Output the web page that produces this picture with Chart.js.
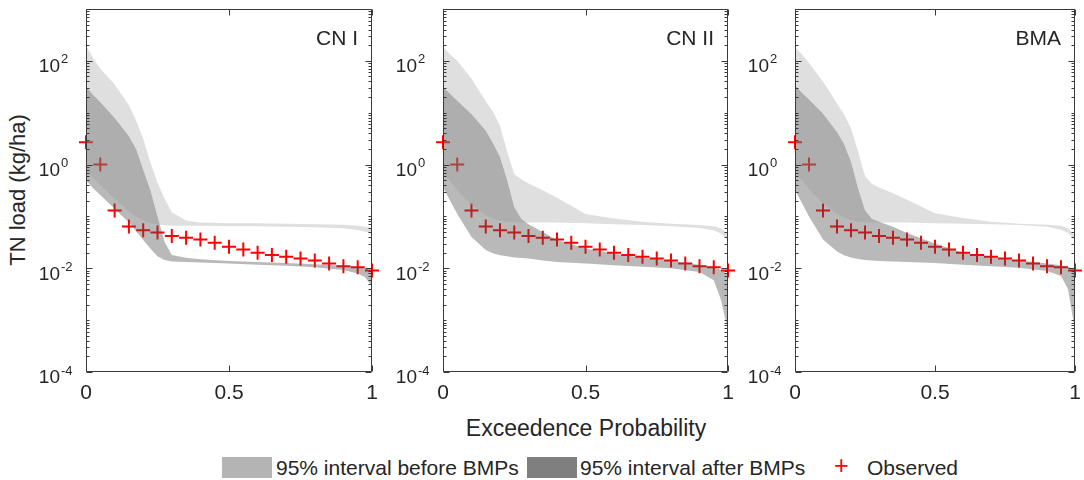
<!DOCTYPE html>
<html>
<head>
<meta charset="utf-8">
<script src="https://cdn.jsdelivr.net/npm/chart.js@4.4.1/dist/chart.umd.min.js"></script>
<style>
    body { margin: 0; background: #fff; }
    #wrap { position: relative; width: 1084px; height: 480px; background: #fff; overflow: hidden;
            font-family: "Liberation Sans", Arial, sans-serif; color: #262626; }
    #wrap canvas { position: absolute; top: 0; }
    .ytitle { position: absolute; left: 18px; top: 190px; font-size: 22px; white-space: nowrap;
              transform: translate(-50%, -50%) rotate(-90deg); }
    .xtitle { position: absolute; left: 586px; top: 428px; font-size: 23px; white-space: nowrap;
              transform: translate(-50%, -50%); }
    .lg { position: absolute; font-size: 21px; white-space: nowrap; line-height: 22px; top: 457px; }
    .box { position: absolute; top: 457px; width: 50px; height: 21px; }
</style>
</head>
<body>
<div id="wrap">
    <canvas id="p1"></canvas>
    <canvas id="p2"></canvas>
    <canvas id="p3"></canvas>
    <div class="ytitle">TN load (kg/ha)</div>
    <div class="xtitle">Exceedence Probability</div>
    <div class="box" style="left:222px;background:#b4b4b4"></div>
    <div class="lg" style="left:276px">95% interval before BMPs</div>
    <div class="box" style="left:527px;background:#7f7f7f"></div>
    <div class="lg" style="left:580px">95% interval after BMPs</div>
    <div class="lg" style="left:834px;color:#ff0000;font-size:25px;top:454px">+</div>
    <div class="lg" style="left:867px">Observed</div>
</div>
<script>
// exceedence probability grid for the uncertainty bands
const probGrid = [0, 0.025, 0.05, 0.1, 0.15, 0.175, 0.2, 0.225, 0.25, 0.275, 0.3, 0.35, 0.4, 0.5, 0.6, 0.7, 0.8, 0.9, 0.95, 0.975, 1];

// observed TN load (kg/ha)
const obsProb = [0, 0.05, 0.1, 0.15, 0.2, 0.25, 0.3, 0.35, 0.4, 0.45, 0.5, 0.55, 0.6, 0.65, 0.7, 0.75, 0.8, 0.85, 0.9, 0.95, 1];
const observed = [2.7, 1.0, 0.13, 0.064, 0.054, 0.049, 0.042, 0.039, 0.036, 0.031, 0.026, 0.023, 0.020, 0.018, 0.0166, 0.0155, 0.0141, 0.0123, 0.011, 0.0105, 0.0091];

// CN I
const cn1BeforeUpper = [200, 112, 71, 35, 14, 7.1, 3.2, 1.1, 0.45, 0.22, 0.12, 0.083, 0.076, 0.074, 0.074, 0.072, 0.071, 0.069, 0.066, 0.063, 0.06];
const cn1BeforeLower = [0.79, 0.56, 0.4, 0.22, 0.126, 0.1, 0.083, 0.074, 0.069, 0.068, 0.066, 0.066, 0.066, 0.065, 0.065, 0.063, 0.062, 0.059, 0.055, 0.051, 0.047];
const cn1AfterUpper = [32, 22, 16, 7.9, 3.5, 2.0, 0.79, 0.32, 0.1, 0.032, 0.018, 0.016, 0.015, 0.0138, 0.0132, 0.0126, 0.012, 0.0112, 0.0105, 0.01, 0.0089];
const cn1AfterLower = [0.5, 0.35, 0.26, 0.14, 0.076, 0.052, 0.035, 0.024, 0.017, 0.0145, 0.0135, 0.0132, 0.0129, 0.0123, 0.0117, 0.0112, 0.0105, 0.0093, 0.0079, 0.0068, 0.0045];

// CN II
const cn2BeforeUpper = [190, 132, 100, 45, 16.6, 10.5, 5.6, 1.78, 0.65, 0.52, 0.43, 0.32, 0.23, 0.112, 0.091, 0.079, 0.072, 0.068, 0.065, 0.059, 0.045];
const cn2BeforeLower = [0.71, 0.48, 0.32, 0.166, 0.105, 0.091, 0.083, 0.079, 0.078, 0.076, 0.076, 0.076, 0.076, 0.074, 0.071, 0.068, 0.065, 0.06, 0.054, 0.047, 0.035];
const cn2AfterUpper = [31, 23, 17, 9.3, 4.5, 2.6, 1.38, 0.5, 0.15, 0.089, 0.071, 0.05, 0.035, 0.024, 0.019, 0.0162, 0.0138, 0.0117, 0.0105, 0.0093, 0.0076];
const cn2AfterLower = [0.36, 0.2, 0.112, 0.04, 0.0224, 0.0195, 0.0178, 0.017, 0.0162, 0.0158, 0.0155, 0.0141, 0.0132, 0.0123, 0.0115, 0.0107, 0.01, 0.0085, 0.0059, 0.0025, 0.00063];

// BMA
const bmaBeforeUpper = [186, 132, 91, 40, 15.1, 9.3, 5.0, 1.78, 0.6, 0.42, 0.36, 0.28, 0.21, 0.115, 0.093, 0.079, 0.072, 0.069, 0.066, 0.059, 0.043];
const bmaBeforeLower = [0.71, 0.5, 0.33, 0.178, 0.112, 0.095, 0.085, 0.079, 0.078, 0.076, 0.076, 0.076, 0.076, 0.074, 0.072, 0.071, 0.068, 0.063, 0.056, 0.048, 0.035];
const bmaAfterUpper = [34, 24, 18, 9.5, 4.2, 2.5, 1.12, 0.35, 0.13, 0.089, 0.079, 0.063, 0.048, 0.03, 0.02, 0.0166, 0.0141, 0.0123, 0.0115, 0.0107, 0.0095];
const bmaAfterLower = [0.33, 0.18, 0.1, 0.036, 0.021, 0.0178, 0.0162, 0.0151, 0.0145, 0.0141, 0.0138, 0.0135, 0.0132, 0.0126, 0.0117, 0.011, 0.0102, 0.0089, 0.0071, 0.004, 0.00063];

const xTicks = [0, 0.5, 1];
const xTickLabels = ['0', '0.5', '1'];
const yLabelExps = [-4, -2, 0, 2];

const FONT = '"Liberation Sans", Arial, sans-serif';
const textColor = '#262626';
const axisColor = '#3a3a3a';

// matlab-ish box with inward ticks and 10^n labels
const axesBox = {
    id: 'axesBox',
    afterDraw(chart, args, opts) {
        const { ctx, chartArea: a } = chart;
        const xs = chart.scales.x, ys = chart.scales.y;
        const L = Math.round(a.left) + 0.5, R = Math.round(a.right) - 0.5;
        const T = Math.round(a.top) + 0.5, B = Math.round(a.bottom) - 0.5;
        ctx.save();
        ctx.strokeStyle = axisColor;
        ctx.lineWidth = 1;
        ctx.beginPath();
        ctx.rect(L, T, R - L, B - T);
        for (let e = -4; e <= 3; e++) {
            for (let m = 1; m <= 9; m++) {
                const v = m * Math.pow(10, e);
                if (v > 1000.001) continue;
                const py = Math.round(ys.getPixelForValue(v)) + 0.5;
                const len = (m === 1 && e % 2 === 0) ? 6 : 3;
                ctx.moveTo(L, py); ctx.lineTo(L + len, py);
                ctx.moveTo(R, py); ctx.lineTo(R - len, py);
            }
        }
        xTicks.forEach(v => {
            const px = Math.round(xs.getPixelForValue(v)) + 0.5;
            ctx.moveTo(px, B); ctx.lineTo(px, B - 6);
            ctx.moveTo(px, T); ctx.lineTo(px, T + 6);
        });
        ctx.stroke();

        ctx.fillStyle = textColor;
        ctx.textBaseline = 'middle';
        yLabelExps.forEach(e => {
            const py = ys.getPixelForValue(Math.pow(10, e));
            ctx.font = '19px ' + FONT;
            ctx.textAlign = 'right';
            ctx.fillText('10', a.left - 26, py + 6);
            ctx.font = '13px ' + FONT;
            ctx.textAlign = 'left';
            ctx.fillText(String(e), a.left - 25, py - 1);
        });

        ctx.font = '21px ' + FONT;
        ctx.textAlign = 'center';
        xTicks.forEach((v, i) => ctx.fillText(xTickLabels[i], xs.getPixelForValue(v), a.bottom + 21));

        ctx.textAlign = 'right';
        ctx.fillText(opts.name, a.right - 14, a.top + 30);
        ctx.restore();
    }
};

const pts = (xs, ys) => xs.map((x, i) => ({ x, y: ys[i] }));

const makePanel = (id, left, plotWidth, rightPad, name, bU, bL, aU, aL) => {
    const canvas = document.getElementById(id);
    canvas.width = 50 + plotWidth + rightPad;
    canvas.height = 410;
    canvas.style.left = left + 'px';

    const band = (data, fill, color) => ({
        data, fill, backgroundColor: color, borderWidth: 0, pointRadius: 0, tension: 0
    });

    new Chart(canvas, {
        type: 'line',
        data: {
            datasets: [
                band(pts(probGrid, bU), '+1', 'rgba(150,150,150,0.3)'),
                band(pts(probGrid, bL), false, 'transparent'),
                band(pts(probGrid, aU), '+1', 'rgba(80,80,80,0.4)'),
                band(pts(probGrid, aL), false, 'transparent'),
                {
                    data: pts(obsProb, observed),
                    showLine: false,
                    pointStyle: 'cross',
                    pointRadius: 7,
                    pointBorderWidth: 2,
                    borderColor: '#ff0000',
                    backgroundColor: '#ff0000',
                    clip: false
                }
            ]
        },
        options: {
            responsive: false,
            animation: false,
            devicePixelRatio: 1,
            layout: { padding: { top: 8, right: rightPad, left: 0, bottom: 0 } },
            plugins: { legend: { display: false }, tooltip: { enabled: false }, axesBox: { name } },
            scales: {
                x: {
                    type: 'linear', min: 0, max: 1,
                    grid: { display: false }, border: { display: false },
                    ticks: { display: false },
                    afterFit: s => { s.height = 38; }
                },
                y: {
                    type: 'logarithmic', min: 1e-4, max: 1e3,
                    grid: { display: false }, border: { display: false },
                    ticks: { display: false },
                    afterFit: s => { s.width = 50; }
                }
            }
        },
        plugins: [axesBox]
    });
};

makePanel('p1', 36, 287, 8, 'CN I', cn1BeforeUpper, cn1BeforeLower, cn1AfterUpper, cn1AfterLower);
makePanel('p2', 393, 286, 8, 'CN II', cn2BeforeUpper, cn2BeforeLower, cn2AfterUpper, cn2AfterLower);
makePanel('p3', 745, 288, 1, 'BMA', bmaBeforeUpper, bmaBeforeLower, bmaAfterUpper, bmaAfterLower);
</script>
</body>
</html>
